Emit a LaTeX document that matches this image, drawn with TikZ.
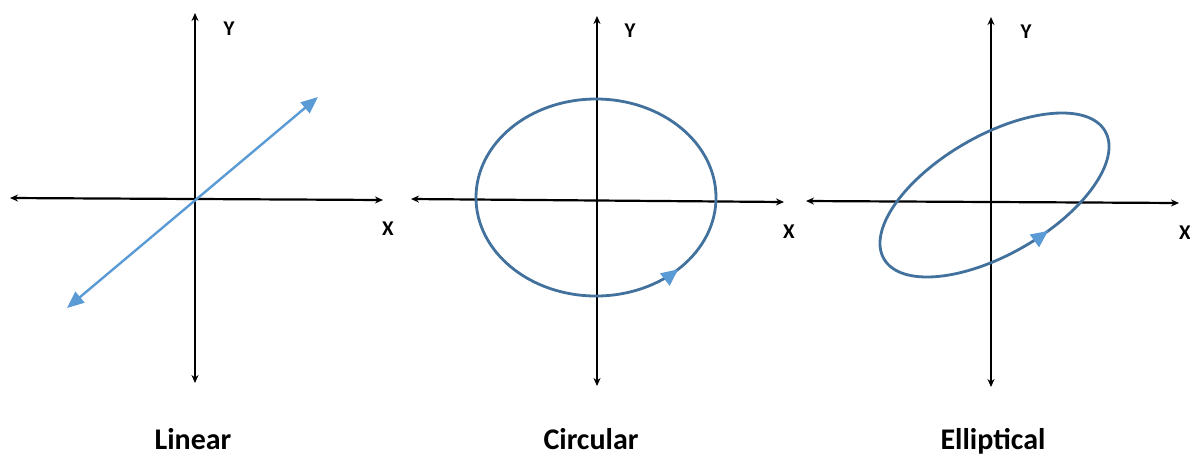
\documentclass[tikz,border=0pt]{standalone}
\usepackage{fontspec}
\setmainfont{Carlito}
\usetikzlibrary{arrows.meta, decorations.markings}
\definecolor{lineblue}{RGB}{91,155,213}
\definecolor{curveblue}{RGB}{65,113,156}
\tikzset{
    axis/.style={
        draw=black, line width=2.2pt,
        {Stealth[length=8pt, width=7pt]}-{Stealth[length=8pt, width=7pt]}
    },
    ray/.style={
        draw=lineblue, line width=2.4pt,
        {Triangle[length=17pt, width=14pt]}-{Triangle[length=17pt, width=14pt]}
    },
    orbit/.style={
        draw=curveblue, line width=2.8pt
    },
    turn/.style={
        postaction={decorate},
        decoration={markings, mark=at position #1 with {\arrowreversed{Triangle[length=17pt, width=15pt, color=lineblue]}}}
    },
    lab/.style={
        font=\bfseries\fontsize{21}{21}\selectfont, inner sep=0pt, anchor=base
    },
    caption/.style={
        font=\bfseries\fontsize{30}{30}\selectfont, inner sep=0pt, anchor=base
    }
}
\begin{document}
\begin{tikzpicture}[x=1pt, y=-1pt]
        \useasboundingbox (0,0) rectangle (1190,456);
        % \draw[help lines, step=50] (0,0) grid (1190,456);

        % Linear

        \coordinate (lxa) at (10,198);
        \coordinate (lxb) at (383,200);
        \coordinate (lya) at (195,13);
        \coordinate (lyb) at (195,383);
        \coordinate (lra) at (67,308);
        \coordinate (lrb) at (318,97);

        \path[axis] (lxa) -- (lxb);
        \path[axis] (lya) -- (lyb);
        \path[ray]  (lra) -- (lrb);

        \node[lab]     (ly)     at (229,35)  {Y};
        \node[lab]     (lx)     at (388,235) {X};
        \node[caption] (linear) at (193,449) {Linear};

        % Circular

        \coordinate (cxa) at (411,199);
        \coordinate (cxb) at (784,202);
        \coordinate (cya) at (597,16);
        \coordinate (cyb) at (597,386);
        \coordinate (cc)  at (596,197.5);

        \path[axis] (cxa) -- (cxb);
        \path[axis] (cya) -- (cyb);
        \path[orbit, turn=0.122] (cc) ellipse [x radius=120, y radius=98.5];

        \node[lab]     (cy)       at (630,37)  {Y};
        \node[lab]     (cx)       at (789,238) {X};
        \node[caption] (circular) at (591,449) {Circular};

        % Elliptical

        \coordinate (exa) at (806,201);
        \coordinate (exb) at (1179,203);
        \coordinate (eya) at (991,17);
        \coordinate (eyb) at (991,387);
        \coordinate (ec)  at (994.5,195);

        \path[axis] (exa) -- (exb);
        \path[axis] (eya) -- (eyb);
        \path[orbit, turn=0.203, rotate around={30:(ec)}] (ec) ellipse [x radius=127.7, y radius=59.4];

        \node[lab]     (ey)         at (1026,38)  {Y};
        \node[lab]     (ex)         at (1185,239) {X};
        \node[caption] (elliptical) at (993,449)  {Elliptical};
    \end{tikzpicture}
\end{document}
